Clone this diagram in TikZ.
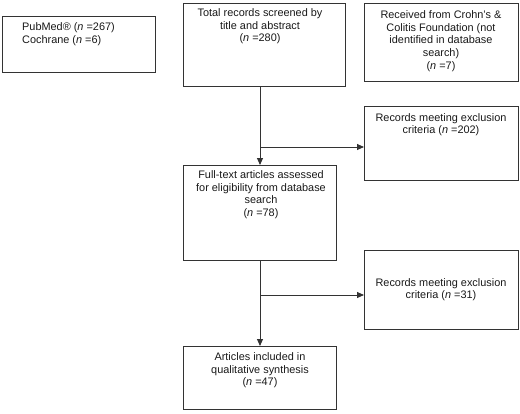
\documentclass[tikz,border=0pt]{standalone}
\usepackage{fontspec}
\setmainfont{Liberation Sans}
\usetikzlibrary{arrows.meta}
\begin{document}
\begin{tikzpicture}[x=1pt,y=-1pt,
  box/.style={draw=black!80,line width=0.9pt,inner sep=0pt,anchor=north west},
  txt/.style={anchor=north,inner sep=0pt,align=center,text=black!90,font=\fontsize{10.9}{12.6}\selectfont},
  arr/.style={draw=black!80,line width=0.9pt,-{Triangle[length=7pt,width=6pt]}}]
\useasboundingbox (0,0) rectangle (520,413);
% boxes
\node[box,minimum width=153pt,minimum height=56pt] (A) at (2,16) {};
\node[box,minimum width=162pt,minimum height=83pt] (B) at (183,3) {};
\node[box,minimum width=154pt,minimum height=78pt] (C) at (364,3) {};
\node[box,minimum width=154pt,minimum height=74pt] (D) at (364,106) {};
\node[box,minimum width=153pt,minimum height=95pt] (E) at (183,165) {};
\node[box,minimum width=154pt,minimum height=79pt] (F) at (364,250) {};
\node[box,minimum width=153pt,minimum height=63pt] (G) at (183,346) {};
% texts
\node[txt,align=left,anchor=north west] (tA) at (22,22.5) {PubMed® (\textit{n} =267)\\Cochrane (\textit{n} =6)};
\node[txt] (tB) at (260,8.5) {Total records screened by\\title and abstract\\(\textit{n} =280)};
\node[txt] (tC) at (441,10.5) {Received from Crohn’s \&\\Colitis Foundation (not\\identified in database\\search)\\(\textit{n} =7)};
\node[txt] (tD) at (441,113) {Records meeting exclusion\\criteria (\textit{n} =202)};
\node[txt] (tE) at (261,170.5) {Full-text articles assessed\\for eligibility from database\\search\\(\textit{n} =78)};
\node[txt] (tF) at (441,278) {Records meeting exclusion\\criteria (\textit{n} =31)};
\node[txt] (tG) at (260,352.5) {Articles included in\\qualitative synthesis\\(\textit{n} =47)};
% connectors
\coordinate (j1) at (260,147);
\coordinate (j2) at (260,295);
\draw[arr] (B.south -| j1) -- (E.north -| j1);
\draw[arr] (j1) -- (D.west |- j1);
\draw[arr] (E.south -| j2) -- (G.north -| j2);
\draw[arr] (j2) -- (F.west |- j2);
\end{tikzpicture}
\end{document}
